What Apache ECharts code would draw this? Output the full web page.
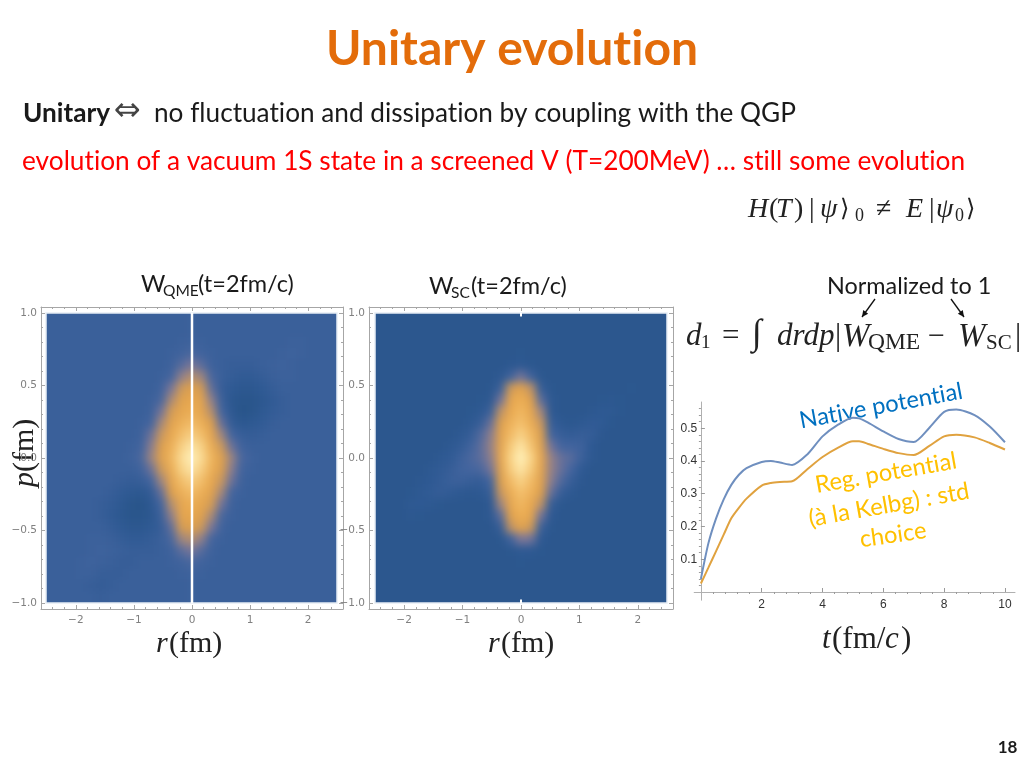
<!DOCTYPE html>
<html>
<head>
<meta charset="utf-8">
<script src="https://cdn.jsdelivr.net/npm/echarts@6/dist/echarts.min.js"></script>
<style>
html,body{margin:0;padding:0;background:#fff}
#c{width:1024px;height:768px;isolation:isolate;position:relative}
</style>
</head>
<body>
<div id="c"></div>
<script>
// Wigner panels: values, rows top (p=+0.96) to bottom (p=-0.96), columns r=-2.41..2.41
const leftField = [
[25,25,25,25,25,25,25,25,25,25,25,25,25,25,26,25,25,25,25,25,25,25,25,25,25,25,25,25,25],
[25,25,25,25,25,25,25,25,25,25,25,25,25,25,26,25,25,25,25,25,25,25,25,25,25,25,25,25,25],
[25,25,25,25,25,25,25,25,25,25,25,25,25,26,27,26,25,25,25,25,25,25,25,25,26,26,25,25,25],
[25,25,25,25,25,25,25,25,25,25,25,25,26,28,31,28,26,25,25,25,25,25,25,26,27,26,25,25,25],
[25,25,25,25,25,25,25,25,25,25,25,25,27,33,39,34,27,25,24,24,24,25,26,27,26,25,25,25,25],
[25,25,25,25,25,25,25,25,25,25,25,26,30,43,50,46,31,25,23,21,21,23,25,26,26,25,25,25,25],
[25,25,25,25,25,25,25,25,25,25,25,28,39,56,62,58,35,24,20,17,17,20,23,25,25,25,25,25,25],
[25,25,25,25,25,25,25,25,25,25,26,31,48,63,68,65,43,26,17,13,13,17,21,24,25,25,25,25,25],
[25,25,25,25,25,25,25,25,25,25,27,38,58,68,72,68,50,30,18,12,13,18,22,24,25,25,25,25,25],
[25,25,25,25,25,25,25,25,25,26,30,47,64,73,78,73,60,36,22,17,18,21,24,25,25,25,25,25,25],
[25,25,25,25,25,25,25,25,25,27,37,55,69,79,86,79,67,46,30,24,23,24,25,25,25,25,25,25,25],
[25,25,25,25,25,25,25,25,26,29,42,60,73,86,95,87,72,56,37,28,25,25,25,25,25,25,25,25,25],
[25,25,25,25,25,25,25,25,27,31,45,62,75,91,100,91,75,62,45,31,27,25,25,25,25,25,25,25,25],
[25,25,25,25,25,25,25,25,25,28,37,56,72,87,95,86,73,60,42,29,26,25,25,25,25,25,25,25,25],
[25,25,25,25,25,25,25,24,23,24,30,46,67,79,86,79,69,55,37,27,25,25,25,25,25,25,25,25,25],
[25,25,25,25,25,25,24,21,18,17,22,36,60,73,78,73,64,47,30,26,25,25,25,25,25,25,25,25,25],
[25,25,25,25,25,24,22,18,13,12,18,30,50,68,72,68,58,38,27,25,25,25,25,25,25,25,25,25,25],
[25,25,25,25,25,24,21,17,13,13,17,26,43,65,68,63,48,31,26,25,25,25,25,25,25,25,25,25,25],
[25,25,25,25,25,25,23,20,17,17,20,24,35,58,62,56,39,28,25,25,25,25,25,25,25,25,25,25,25],
[25,25,25,25,26,26,25,23,21,21,23,25,31,46,50,43,30,26,25,25,25,25,25,25,25,25,25,25,25],
[25,25,25,25,26,27,26,25,24,24,24,25,27,34,39,33,27,25,25,25,25,25,25,25,25,25,25,25,25],
[25,25,25,26,27,26,25,24,24,25,25,25,26,28,31,28,26,25,25,25,25,25,25,25,25,25,25,25,25],
[25,25,25,26,26,24,24,24,25,25,25,25,25,26,27,26,25,25,25,25,25,25,25,25,25,25,25,25,25],
[25,25,25,25,24,23,24,25,25,25,25,25,25,25,26,25,25,25,25,25,25,25,25,25,25,25,25,25,25],
[25,25,25,25,25,24,25,25,25,25,25,25,25,25,26,25,25,25,25,25,25,25,25,25,25,25,25,25,25]
];
const rightField = [
[15,15,15,15,15,15,15,15,15,15,15,15,15,15,15,15,15,15,15,15,15,15,15,15,15,15,15,15,15],
[15,15,15,15,15,15,15,15,15,15,15,15,15,15,15,15,15,15,15,15,15,15,15,15,15,15,15,15,15],
[15,15,15,15,15,15,15,15,15,15,15,15,15,15,15,15,15,15,15,15,15,15,15,15,15,15,15,15,15],
[15,15,15,15,15,15,15,15,15,15,15,15,15,15,16,15,15,15,15,15,15,15,15,15,15,15,15,15,15],
[15,15,15,15,15,15,15,15,15,15,15,15,15,17,19,16,15,15,15,15,15,15,15,15,15,15,15,15,15],
[15,15,15,15,15,15,15,15,15,15,15,15,18,28,38,28,16,15,15,15,15,15,15,15,15,15,15,15,15],
[15,15,15,15,15,15,15,15,15,15,15,16,26,56,64,52,24,16,15,15,15,15,15,15,15,16,15,15,15],
[15,15,15,15,15,15,15,15,15,15,16,18,38,66,72,62,34,18,15,15,15,15,16,17,16,15,15,15,15],
[15,15,15,15,15,15,15,15,15,16,18,26,52,70,76,68,46,19,15,15,15,17,19,18,16,15,15,15,15],
[15,15,15,15,15,15,15,15,15,18,24,36,60,74,80,72,55,24,18,16,18,21,20,16,15,15,15,15,15],
[15,15,15,15,15,15,15,15,18,23,32,42,64,78,87,77,60,30,24,22,24,23,17,15,15,15,15,15,15],
[15,15,15,15,15,15,15,18,22,28,34,44,66,84,95,82,63,38,30,29,27,19,15,15,15,15,15,15,15],
[15,15,15,15,15,15,18,21,26,31,34,42,67,88,100,88,67,44,36,33,26,18,15,15,15,15,15,15,15],
[15,15,15,15,15,18,21,24,28,30,31,38,63,85,95,84,66,44,36,30,20,15,15,15,15,15,15,15,15],
[15,15,15,15,17,19,22,25,26,24,23,30,60,78,87,78,64,42,32,24,17,15,15,15,15,15,15,15,15],
[15,15,15,16,18,21,23,21,18,17,18,24,55,72,80,74,60,36,24,18,15,15,15,15,15,15,15,15,15],
[15,15,15,18,19,18,16,15,15,15,15,19,46,68,76,70,52,24,16,15,15,15,15,15,15,15,15,15,15],
[15,15,15,17,16,15,15,15,15,15,15,18,34,62,72,66,38,19,15,15,15,15,15,15,15,15,15,15,15],
[15,15,15,15,15,15,15,15,15,15,15,15,24,52,64,56,26,16,15,15,15,15,15,15,15,15,15,15,15],
[15,15,15,15,15,15,15,15,15,15,15,15,16,28,40,38,19,15,15,15,15,15,15,15,15,15,15,15,15],
[15,15,15,15,15,15,15,15,15,15,15,15,15,16,19,19,16,15,15,15,15,15,15,15,15,15,15,15,15],
[15,15,15,15,15,15,15,15,15,15,15,15,15,15,16,15,15,15,15,15,15,15,15,15,15,15,15,15,15],
[15,15,15,15,15,15,15,15,15,15,15,15,15,15,15,15,15,15,15,15,15,15,15,15,15,15,15,15,15],
[15,15,15,15,15,15,15,15,15,15,15,15,15,15,15,15,15,15,15,15,15,15,15,15,15,15,15,15,15],
[15,15,15,15,15,15,15,15,15,15,15,15,15,15,15,15,15,15,15,15,15,15,15,15,15,15,15,15,15]
];
const fieldColors = ['#1f4a78','#285488','#2f5a94','#44659f','#7f7897','#b58f6f','#dc9f4e','#eaa94f','#f4c06d','#fad88f','#fff0b8'];

const rTicks = [-2,-1,0,1,2];
const rMinor = [-2.4,-2.2,-1.8,-1.6,-1.4,-1.2,-0.8,-0.6,-0.4,-0.2,0.2,0.4,0.6,0.8,1.2,1.4,1.6,1.8,2.2,2.4];
const pTicks = [-1,-0.5,0,0.5,1];
const pMinor = [-0.9,-0.8,-0.7,-0.6,-0.4,-0.3,-0.2,-0.1,0.1,0.2,0.3,0.4,0.6,0.7,0.8,0.9];
const cutR = [0,0];
const cutP = [-1,1];
const stubR = [0,0];
const stubTop = [0.975,1];
const stubBottom = [-1,-0.975];

// d1(t) curves
const timeValues = [0,0.25,0.5,0.75,1,1.25,1.5,2,2.3,2.6,3,3.5,4,4.5,5,5.2,5.5,6,6.5,7,7.5,8,8.4,9,9.5,10];
const nativeValues = [0.04,0.15,0.225,0.283,0.327,0.358,0.378,0.397,0.40,0.395,0.388,0.42,0.475,0.51,0.532,0.53,0.517,0.49,0.467,0.458,0.50,0.55,0.557,0.54,0.505,0.457];
const regValues = [0.026,0.075,0.125,0.175,0.225,0.257,0.285,0.325,0.333,0.336,0.338,0.375,0.412,0.44,0.46,0.46,0.452,0.437,0.424,0.418,0.445,0.475,0.48,0.472,0.455,0.435];
const tTicks = [2,4,6,8,10];
const tMinor = [0.4,0.8,1.2,1.6,2.4,2.8,3.2,3.6,4.4,4.8,5.2,5.6,6.4,6.8,7.2,7.6,8.4,8.8,9.2,9.6];
const dTicks = [0.1,0.2,0.3,0.4,0.5];
const dMinor = [0.02,0.04,0.06,0.08,0.12,0.14,0.16,0.18,0.22,0.24,0.26,0.28,0.32,0.34,0.36,0.38,0.42,0.44,0.46,0.48,0.52,0.54,0.56];

const SANS = 'Lato, "Open Sans", sans-serif';
const SERIF = '"Liberation Serif", "DejaVu Serif", serif';

// keep "ti"/"fl" unligated, as in the slide's font
(function(){
  const P = CanvasRenderingContext2D.prototype, f = P.fillText;
  P.fillText = function(){ try{ this.letterSpacing = '0.001px'; }catch(e){} return f.apply(this, arguments); };
})();

const grids = [], xAxes = [], yAxes = [], series = [];

function addHeat(rect, field, name){
  const g = grids.length;
  grids.push({left:rect.l, top:rect.t, width:rect.w, height:rect.h, show:true, borderColor:'#e6edf5', borderWidth:1.5, backgroundColor:'transparent'});
  const x = xAxes.length, y = yAxes.length;
  xAxes.push({type:'category', gridIndex:g, show:false, data:field[0].map((_,i)=>i)});
  yAxes.push({type:'category', gridIndex:g, show:false, inverse:true, data:field.map((_,i)=>i)});
  const data = [];
  field.forEach((row,j)=>row.forEach((v,i)=>data.push([i,j,v])));
  series.push({type:'heatmap', name, xAxisIndex:x, yAxisIndex:y, data, zlevel:-1, progressive:0, animation:false, itemStyle:{borderWidth:0}, emphasis:{disabled:true}, silent:true});
}
const frameLine = {show:true, onZero:false, lineStyle:{color:'#a6a6a6', width:1}};
const noLine = {show:false, onZero:false};
const fmt = d => v => v.toFixed(d).replace('-', '\u2212');
const fmt0 = v => String(v).replace('-', '\u2212');
function addFrame(rect){
  const g = grids.length;
  grids.push({left:rect.l, top:rect.t, width:rect.w, height:rect.h});
  const xi = xAxes.length, yi = yAxes.length;
  const xb = {type:'value', gridIndex:g, min:-2.6, max:2.6, splitLine:{show:false}};
  const yb = {type:'value', gridIndex:g, min:-1.04, max:1.04, splitLine:{show:false}};
  const lab = {color:'#808080', fontSize:10.5, fontFamily:'"DejaVu Sans", sans-serif'};
  const tick = (vals,len)=>({show:true, customValues:vals, inside:true, length:len, lineStyle:{color:'#a6a6a6', width:1}});
  ['bottom','top'].forEach((pos,k)=>{
    xAxes.push({...xb, position:pos, axisLine:frameLine, axisTick:tick(rTicks,4),
      axisLabel: k===0 ? {...lab, margin:6, customValues:rTicks, formatter:fmt0} : {show:false}});
    xAxes.push({...xb, position:pos, axisLine:noLine, axisTick:tick(rMinor,2), axisLabel:{show:false}});
  });
  ['left','right'].forEach((pos,k)=>{
    yAxes.push({...yb, position:pos, axisLine:frameLine, axisTick:tick(pTicks,4),
      axisLabel: k===0 ? {...lab, margin:4, customValues:pTicks, formatter:fmt(1)} : {show:false}});
    yAxes.push({...yb, position:pos, axisLine:noLine, axisTick:tick(pMinor,2), axisLabel:{show:false}});
  });
  return {xi, yi};
}
const zip = (a,b)=>a.map((v,i)=>[v,b[i]]);
function whiteLine(f, xs, ys, w){
  series.push({type:'line', xAxisIndex:f.xi, yAxisIndex:f.yi, data:zip(xs,ys), showSymbol:false, symbol:'none', lineStyle:{color:'#ffffff', width:w}, animation:false, silent:true});
}

const panelL = {l:46, t:313, w:291, h:290};
const panelR = {l:375, t:313, w:292, h:290};
addHeat(panelL, leftField, 'W_QME');
addHeat(panelR, rightField, 'W_SC');
const fL = addFrame({l:41, t:307, w:302, h:302});
const fR = addFrame({l:369, t:307, w:304, h:302});
whiteLine(fL, cutR, cutP, 2.5);
whiteLine(fR, stubR, stubTop, 2);
whiteLine(fR, stubR, stubBottom, 2);

// line chart
const lg = grids.length;
grids.push({left:694.2, top:402, width:320.8, height:198.2});
const lx = xAxes.length, ly = yAxes.length;
const axL = {show:true, onZero:true, lineStyle:{color:'#b0b0b0', width:1}};
const tickL = (vals,len)=>({show:true, customValues:vals, inside:true, length:len, lineStyle:{color:'#9a9a9a', width:1}});
const xl = {type:'value', gridIndex:lg, min:-0.22, max:10.33, splitLine:{show:false}};
const yl = {type:'value', gridIndex:lg, min:-0.025, max:0.58, splitLine:{show:false}};
const labL = {color:'#333', fontSize:12, fontFamily:'"Liberation Sans", sans-serif'};
xAxes.push({...xl, axisLine:axL, axisTick:tickL(tTicks,4), axisLabel:{...labL, margin:-2, customValues:tTicks}});
xAxes.push({...xl, axisLine:{show:false}, axisTick:tickL(tMinor,2), axisLabel:{show:false}});
yAxes.push({...yl, axisLine:axL, axisTick:tickL(dTicks,4), axisLabel:{...labL, margin:-3, customValues:dTicks, formatter:fmt(1)}});
yAxes.push({...yl, axisLine:{show:false}, axisTick:tickL(dMinor,2), axisLabel:{show:false}});
series.push({type:'line', name:'Native potential', xAxisIndex:lx, yAxisIndex:ly, data:zip(timeValues,nativeValues), smooth:0.25, symbol:'none', lineStyle:{color:'#6f8fbf', width:2}, animation:false, silent:true});
series.push({type:'line', name:'Reg. potential', xAxisIndex:lx, yAxisIndex:ly, data:zip(timeValues,regValues), smooth:0.25, symbol:'none', lineStyle:{color:'#e0a23f', width:2}, animation:false, silent:true});

// Text
const texts = [];
function T(x,y,text,o={}){
  texts.push({type:'text', x, y, rotation:(o.rot||0)*Math.PI/180, silent:true, style:{
    text, fontSize:o.size||24, fontFamily:o.fam||SANS, fontWeight:o.w||'normal', fontStyle:o.it?'italic':'normal',
    fill:o.c||'#1a1a1a', textAlign:o.a||'left', textVerticalAlign:'middle'}});
}
T(512,50,'Unitary evolution',{size:48,w:'bold',c:'#E36C0A',a:'center'});
T(23,114,'Unitary',{size:26.2,w:'bold'});
T(114,112,'\u21D4',{size:32,fam:'"DejaVu Sans"',c:'#444'});
T(154,114,'no fluctuation and dissipation by coupling with the QGP',{size:26.2});
T(22,162,'evolution of a vacuum 1S state in a screened V (T=200MeV) \u2026 still some evolution',{size:26.25,c:'#FF0000'});

T(141,284,'W',{size:23.5}); T(163,291,'QME',{size:15.5}); T(198,284,'(t=2fm/c)',{size:23.5});
T(429,286,'W',{size:23.5}); T(451,293,'SC',{size:15.5}); T(471,286,'(t=2fm/c)',{size:23.5});
T(827,286,'Normalized to 1',{size:23.4});

// equation 1
const S = {fam:SERIF, c:'#222'};
const E1 = 210;
T(748,E1,'H',{...S,size:28,it:1}); T(769,E1,'(',{...S,size:28}); T(776,E1,'T',{...S,size:28,it:1}); T(794,E1,')',{...S,size:28});
T(809,E1,'|',{...S,size:28}); T(820,E1,'\u03C8',{...S,size:28,it:1}); T(840,E1,'\u27E9',{...S,size:24,fam:'"DejaVu Serif"'});
T(855,E1+6,'0',{...S,size:18}); T(876,E1,'\u2260',{...S,size:28}); T(906,E1,'E',{...S,size:28,it:1});
T(929,E1,'|',{...S,size:28}); T(936,E1,'\u03C8',{...S,size:28,it:1}); T(955,E1+6,'0',{...S,size:18}); T(966,E1,'\u27E9',{...S,size:24,fam:'"DejaVu Serif"'});

// equation 2
const E2 = 337;
T(686,E2,'d',{...S,size:31,it:1}); T(701,E2+6,'1',{...S,size:19}); T(722,E2,'=',{...S,size:31});
T(752,E2-2,'\u222B',{...S,size:36,it:1}); T(777,E2,'drdp',{...S,size:31,it:1}); T(835,E2,'|',{...S,size:31});
T(842,E2,'W',{...S,size:33,it:1}); T(868,E2+6,'QME',{...S,size:23.5}); T(928,E2,'\u2212',{...S,size:30});
T(958,E2,'W',{...S,size:33,it:1}); T(986,E2+6,'SC',{...S,size:21}); T(1015,E2,'|',{...S,size:31});

// arrows
function arrow(x1,y1,x2,y2){
  texts.push({type:'line', silent:true, shape:{x1,y1,x2,y2}, style:{stroke:'#111', lineWidth:1.3}});
  const a = Math.atan2(y2-y1,x2-x1), s = 7, b = 0.45;
  texts.push({type:'polygon', silent:true, shape:{points:[[x2,y2],[x2-s*Math.cos(a-b),y2-s*Math.sin(a-b)],[x2-s*Math.cos(a+b),y2-s*Math.sin(a+b)]]}, style:{fill:'#111'}});
}
arrow(875,299,862,317);
arrow(951,299,964,317);

// axis titles
const A = {fam:SERIF, size:30, c:'#222'};
T(156,644,'r',{...A,it:1}); T(169,644,'(fm)',A);
T(488,644,'r',{...A,it:1}); T(501,644,'(fm)',A);
const A2 = {...A, size:31};
T(822,640,'t',{...A2,it:1}); T(832,640,'(fm/',A2); T(885,640,'c',{...A2,it:1}); T(901,640,')',A2);
T(25,487,'p',{...A,it:1,rot:90}); T(25,472,'(fm)',{...A,rot:90});

// annotations
T(881,406,'Native potential',{size:23.6,c:'#0070C0',a:'center',rot:10.5});
T(886,473,'Reg. potential',{size:23.8,c:'#FFC000',a:'center',rot:10});
T(889,505,'(\u00E0 la Kelbg) : std',{size:23.8,c:'#FFC000',a:'center',rot:10});
T(893,535,'choice',{size:23.6,c:'#FFC000',a:'center',rot:8});
T(1007.5,748,'18',{size:17,w:'bold',a:'center'});

const chart = echarts.init(document.getElementById('c'), null, {renderer:'canvas', width:1024, height:768});
chart.setOption({
  animation:false,
  grid:grids, xAxis:xAxes, yAxis:yAxes, series,
  visualMap:{show:false, type:'continuous', min:0, max:100, dimension:2, seriesIndex:[0,1], inRange:{color:fieldColors}},
  graphic:{elements:texts}
});

// Soft, video-like look of the two density panels: blur only the layer holding the heatmaps
function softenPanels(){
  const canvases = chart.getDom().querySelectorAll('canvas');
  const c = canvases[0];
  const rectPath = p => `M${p.l} ${p.t}H${p.l+p.w}V${p.t+p.h}H${p.l}Z`;
  const split = (panelL.l+panelL.w+panelR.l)/2;
  c.style.background = `linear-gradient(90deg,#3a609a 0,#3a609a ${split}px,#2b578e ${split}px)`;
  c.style.filter = 'blur(4px)';
  c.style.clipPath = `path('${rectPath(panelL)} ${rectPath(panelR)}')`;
}
softenPanels();
chart.on('finished', softenPanels);
</script>
</body>
</html>
